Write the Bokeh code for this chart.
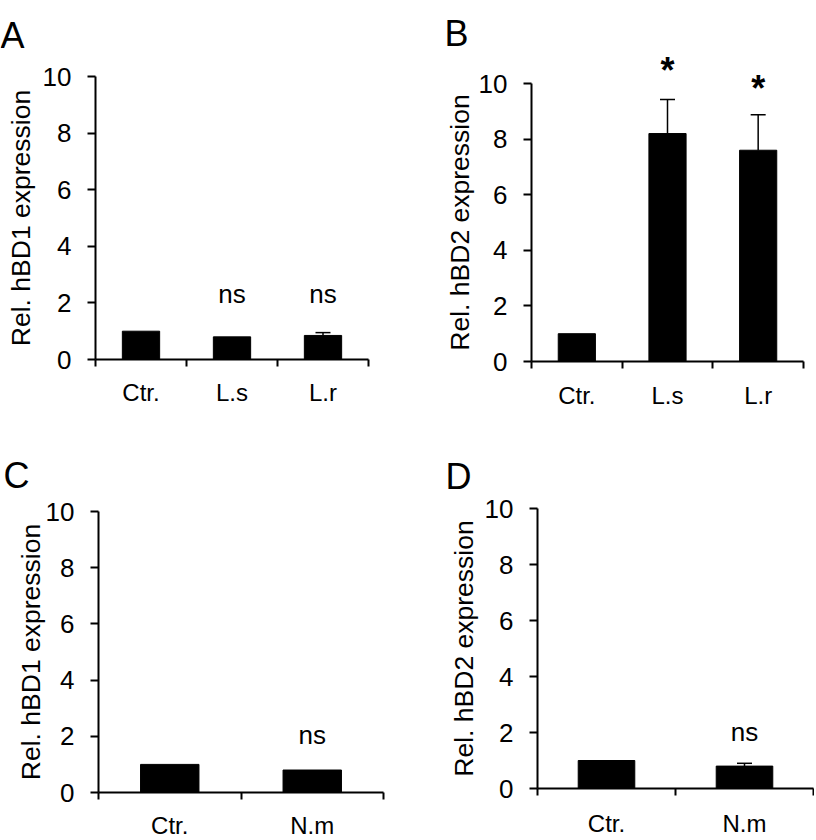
import math
from bokeh.plotting import figure
from bokeh.layouts import column, row
from bokeh.models import Range1d, FixedTicker
from bokeh.embed import file_html
from bokeh.resources import INLINE
from bokeh.core.properties import value

FONT = "Liberation Sans"

# ---------------- data ----------------
y_ticks = [0, 2, 4, 6, 8, 10]

a_categories = ["Ctr.", "L.s", "L.r"]
a_means = [1.0, 0.8, 0.85]
a_errors = [0.0, 0.0, 0.1]
a_sig = ["", "ns", "ns"]
a_sig_y = [0.0, 2.4, 2.4]

b_categories = ["Ctr.", "L.s", "L.r"]
b_means = [1.0, 8.2, 7.6]
b_errors = [0.0, 1.22, 1.28]
b_sig = ["", "*", "*"]
b_sig_y = [0.0, 10.75, 10.1]

c_categories = ["Ctr.", "N.m"]
c_means = [1.0, 0.8]
c_errors = [0.0, 0.0]
c_sig = ["", "ns"]
c_sig_y = [0.0, 2.1]

d_categories = ["Ctr.", "N.m"]
d_means = [1.0, 0.8]
d_errors = [0.0, 0.1]
d_sig = ["", "ns"]
d_sig_y = [0.0, 2.1]


def make_panel(letter, cats, means, errs, sig, sig_y, ylabel, width, height,
               x0_px, x1_px, y10_px, y0_px, letter_px, ylabel_off, xlab_standoff):
    """Frame covers the whole canvas; *_px give where the axis ends sit."""
    n = len(cats)
    centers = [i + 0.5 for i in range(n)]
    bounds = [float(i) for i in range(n + 1)]
    ppx = (x1_px - x0_px) / n
    ppy = (y0_px - y10_px) / 10.0
    xr = Range1d(-x0_px / ppx, n + (width - x1_px) / ppx)
    yr = Range1d(-(height - y0_px) / ppy, 10 + y10_px / ppy)
    p = figure(width=width, height=height, output_backend="svg",
               toolbar_location=None, x_range=xr, y_range=yr, min_border=0)
    p.outline_line_color = None
    p.xgrid.visible = False
    p.ygrid.visible = False
    p.background_fill_color = "white"
    p.border_fill_color = "white"

    # bars
    p.vbar(x=centers, top=means, width=0.41, bottom=0,
           fill_color="black", line_color="black")

    # upper error bars
    ex = [c for c, e in zip(centers, errs) if e > 0]
    em = [m for m, e in zip(means, errs) if e > 0]
    et = [m + e for m, e in zip(means, errs) if e > 0]
    if ex:
        p.segment(x0=ex, y0=em, x1=ex, y1=et, line_color="black", line_width=1.5)
        p.dash(x=ex, y=et, size=15, line_color="black", line_width=1.5)

    # significance marks
    for kind, size, style, off in (("ns", "26px", "normal", 2), ("*", "36px", "bold", 8)):
        sx = [c for c, s in zip(centers, sig) if s == kind]
        sy = [y for y, s in zip(sig_y, sig) if s == kind]
        if sx:
            p.text(x=sx, y=sy, text=[kind] * len(sx), text_font=value(FONT),
                   text_font_size=value(size), text_font_style=style,
                   text_align="center", text_baseline="middle",
                   y_offset=off, text_color="black")

    # y axis
    ya = p.yaxis[0]
    ya.fixed_location = 0
    ya.bounds = (0, 10)
    ya.ticker = FixedTicker(ticks=y_ticks)
    ya.minor_tick_line_color = None
    ya.major_tick_in = 0
    ya.major_tick_out = 8
    ya.major_tick_line_width = 2
    ya.axis_line_width = 2
    ya.axis_line_color = "black"
    ya.major_tick_line_color = "black"
    ya.major_label_standoff = 16
    ya.major_label_text_font = FONT
    ya.major_label_text_font_size = "26px"
    ya.major_label_text_color = "black"

    # y axis title (rotated text next to the axis)
    p.text(x=[0], y=[5], text=[ylabel], angle=math.pi / 2,
           x_offset=ylabel_off, text_font=value(FONT),
           text_font_size=value("26.5px"), text_align="center",
           text_baseline="top", text_color="black")

    # x axis: category boundaries as ticks, names at centres
    xa = p.xaxis[0]
    xa.fixed_location = 0
    xa.bounds = (0, n)
    xa.ticker = FixedTicker(ticks=centers, minor_ticks=bounds)
    xa.major_label_overrides = {c: cat for c, cat in zip(centers, cats)}
    xa.major_tick_in = 0
    xa.major_tick_out = 0
    xa.minor_tick_in = 0
    xa.minor_tick_out = 7
    xa.minor_tick_line_color = "black"
    xa.minor_tick_line_width = 2
    xa.axis_line_width = 2
    xa.axis_line_color = "black"
    xa.major_label_standoff = xlab_standoff
    xa.major_label_text_font = FONT
    xa.major_label_text_font_size = "24px"
    xa.major_label_text_color = "black"

    # panel letter
    p.text(x=[xr.start], y=[yr.end], text=[letter], x_offset=letter_px[0],
           y_offset=letter_px[1], text_font=value(FONT),
           text_font_size=value("36px"), text_align="left",
           text_baseline="alphabetic", text_color="black")
    return p


pa = make_panel("A", a_categories, a_means, a_errors, a_sig, a_sig_y,
                "Rel. hBD1 expression", 408, 408, 95, 368, 76, 359, (0, 35), -90, 12)
pb = make_panel("B", b_categories, b_means, b_errors, b_sig, b_sig_y,
                "Rel. hBD2 expression", 406, 408, 123, 395, 83, 361, (36, 33), -87, 13)
pc = make_panel("C", c_categories, c_means, c_errors, c_sig, c_sig_y,
                "Rel. hBD1 expression", 408, 430, 98, 383, 103, 384, (3, 67), -83, 12)
pd = make_panel("D", d_categories, d_means, d_errors, d_sig, d_sig_y,
                "Rel. hBD2 expression", 406, 430, 129, 405, 100, 380, (37, 68), -89, 14)

layout = column(row(pa, pb), row(pc, pd))

with open("out.html", "w") as f:
    f.write(file_html(layout, INLINE))
